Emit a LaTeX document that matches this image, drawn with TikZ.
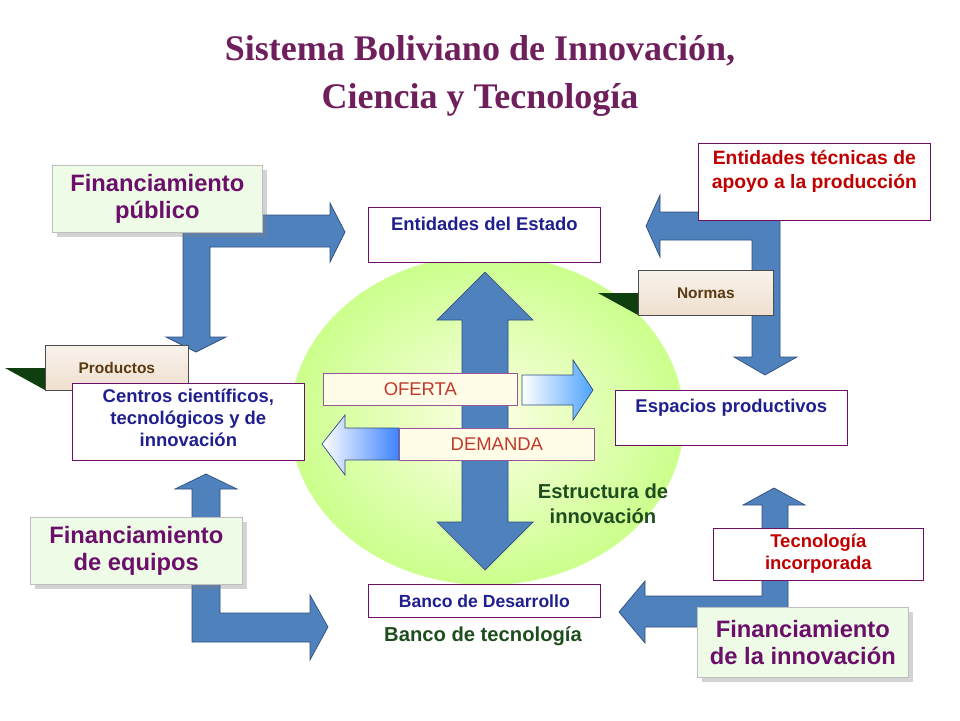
\documentclass[tikz,border=0pt]{standalone}
\usepackage{fontspec}
\setmainfont{Liberation Sans}
\newfontfamily\titlefont{Liberation Serif}
\usetikzlibrary{shadows}
\definecolor{titlepurple}{HTML}{6E1F5C}
\definecolor{finpurple}{HTML}{6B0F6B}
\definecolor{boxnavy}{HTML}{1F1F8F}
\definecolor{boxred}{HTML}{C00000}
\definecolor{darkgreen}{HTML}{1E4D1E}
\definecolor{arrowblue}{HTML}{4F81BD}
\definecolor{arrowedge}{HTML}{2F4F7F}
\definecolor{fingreen}{HTML}{EEFBE6}
\definecolor{tabgreen}{HTML}{0F3F0F}
\definecolor{tabbrown}{HTML}{5A3A10}
\definecolor{ofertaback}{HTML}{FFFDE8}
\definecolor{ofertatext}{HTML}{C0392B}
\definecolor{lightblue}{HTML}{4DA3FF}
\tikzset{
  finbox/.style={draw=black!25, fill=fingreen, drop shadow={opacity=0.35},
    text=finpurple, font=\bfseries\fontsize{13.5}{15}\selectfont, align=center,
    anchor=north west, inner sep=0pt},
  whitebox/.style={draw=finpurple, fill=white, anchor=north west, inner sep=0pt},
  topText/.style={anchor=north, font=\bfseries\fontsize{10.5}{12.5}\selectfont, align=center, inner sep=0pt},
  tabbox/.style={draw=black!70, top color=white!50!brown!20, bottom color=brown!25!white,
    text=tabbrown, font=\bfseries\fontsize{8.8}{10}\selectfont, anchor=north west, inner sep=0pt},
  blockarrow/.style={fill=arrowblue, draw=arrowedge, line width=0.4pt},
  marketbox/.style={draw=finpurple!70, fill=ofertaback, text=ofertatext,
    font=\fontsize{10.5}{12}\selectfont, anchor=north west, inner sep=0pt},
  greentext/.style={text=darkgreen, font=\bfseries\fontsize{11.5}{14}\selectfont, align=center}
}
\begin{document}
\begin{tikzpicture}[x=0.02cm, y=-0.02cm]
\useasboundingbox (0,0) rectangle (960,720);

% title
\node[text=titlepurple, font=\titlefont\bfseries\fontsize{20.5}{27}\selectfont, align=center] (title) at (480,76)
  {Sistema Boliviano de Innovación,\\Ciencia y Tecnología};

% central ellipse
\shade[inner color=green!8!yellow!10, outer color=green!45!yellow!45] (487,420) ellipse [x radius=197, y radius=165];

% block arrows
\draw[blockarrow] (183,215) -- (330,215) -- (330,203) -- (345,232) -- (330,262) -- (330,247)
  -- (210,247) -- (210,337) -- (226,337) -- (196,352) -- (166,337) -- (183,337) -- cycle;
\draw[blockarrow] (780,212) -- (780,357) -- (797,357) -- (765,375) -- (734,357) -- (752,357)
  -- (752,240) -- (660,240) -- (660,257) -- (646,226) -- (660,195) -- (660,212) -- cycle;
\draw[blockarrow] (192,627) -- (192,489) -- (175,489) -- (206,474) -- (237,489) -- (220,489)
  -- (220,613) -- (310,613) -- (310,595) -- (328,627) -- (310,660) -- (310,642) -- (192,642) -- cycle;
\draw[blockarrow] (788,612) -- (788,505) -- (805,505) -- (774,488) -- (743,505) -- (762,505)
  -- (762,596) -- (645,596) -- (645,581) -- (619,612) -- (645,643) -- (645,627) -- (788,627) -- cycle;
\draw[blockarrow] (485,272) -- (533,320) -- (508,320) -- (508,522) -- (533,522) -- (485,570)
  -- (437,522) -- (462,522) -- (462,320) -- (437,320) -- cycle;

% oferta / demanda
\shade[left color=white, right color=lightblue, draw=arrowedge] (522,375) -- (573,375) -- (573,360)
  -- (593,390) -- (573,420) -- (573,405) -- (522,405) -- cycle;
\shade[left color=white, right color=lightblue!80!blue, draw=arrowedge] (399,428) -- (345,428) -- (345,415)
  -- (322,444) -- (345,475) -- (345,460) -- (399,460) -- cycle;
\node[marketbox, minimum width=3.88cm, minimum height=0.64cm] (oferta) at (323,373) {OFERTA};
\node[marketbox, minimum width=3.9cm, minimum height=0.64cm] (demanda) at (399,428) {DEMANDA};

% tabs
\fill[tabgreen] (5,368) -- (45,368) -- (45,390) -- cycle;
\node[tabbox, minimum width=2.86cm, minimum height=0.9cm] (productos) at (45,345) {Productos};
\fill[tabgreen] (598,293) -- (638,293) -- (638,315) -- cycle;
\node[tabbox, minimum width=2.7cm, minimum height=0.9cm] (normas) at (638,270) {Normas};

% white boxes
\node[whitebox, minimum width=4.64cm, minimum height=1.1cm,
  label={[topText, text=boxnavy, yshift=-0.2cm]north:Entidades del Estado}] (estado) at (368,207) {};
\node[whitebox, minimum width=4.64cm, minimum height=1.54cm,
  label={[topText, text=boxnavy, yshift=-0.12cm]north:Centros científicos,\\tecnológicos y de\\innovación}] (centros) at (72,383) {};
\node[whitebox, minimum width=4.64cm, minimum height=1.1cm,
  label={[topText, text=boxnavy, yshift=-0.18cm]north:Espacios productivos}] (espacios) at (615,390) {};
\node[whitebox, minimum width=4.64cm, minimum height=1.54cm,
  label={[topText, text=boxred, yshift=-0.14cm, font=\bfseries\fontsize{11}{13.5}\selectfont]north:Entidades técnicas de\\apoyo a la producción}] (tecnicas) at (698,143) {};
\node[whitebox, minimum width=4.2cm, minimum height=1.04cm,
  label={[topText, text=boxred, yshift=-0.12cm]north:Tecnología\\incorporada}] (incorporada) at (713,528) {};
\node[whitebox, minimum width=4.64cm, minimum height=0.66cm, text=boxnavy,
  font=\bfseries\fontsize{10}{12}\selectfont] (banco) at (368,584) {Banco de Desarrollo};

% financing boxes
\node[finbox, minimum width=4.2cm, minimum height=1.34cm] (publico) at (52,165) {Financiamiento\\público};
\node[finbox, minimum width=4.24cm, minimum height=1.34cm] (equipos) at (30,517) {Financiamiento\\de equipos};
\node[finbox, minimum width=4.22cm, minimum height=1.4cm] (innovacion) at (697,607) {Financiamiento\\de la innovación};

% labels
\node[greentext] (estructura) at (603,504) {Estructura de\\innovación};
\node[greentext] (tecnologia) at (483,636) {Banco de tecnología};
\end{tikzpicture}
\end{document}
